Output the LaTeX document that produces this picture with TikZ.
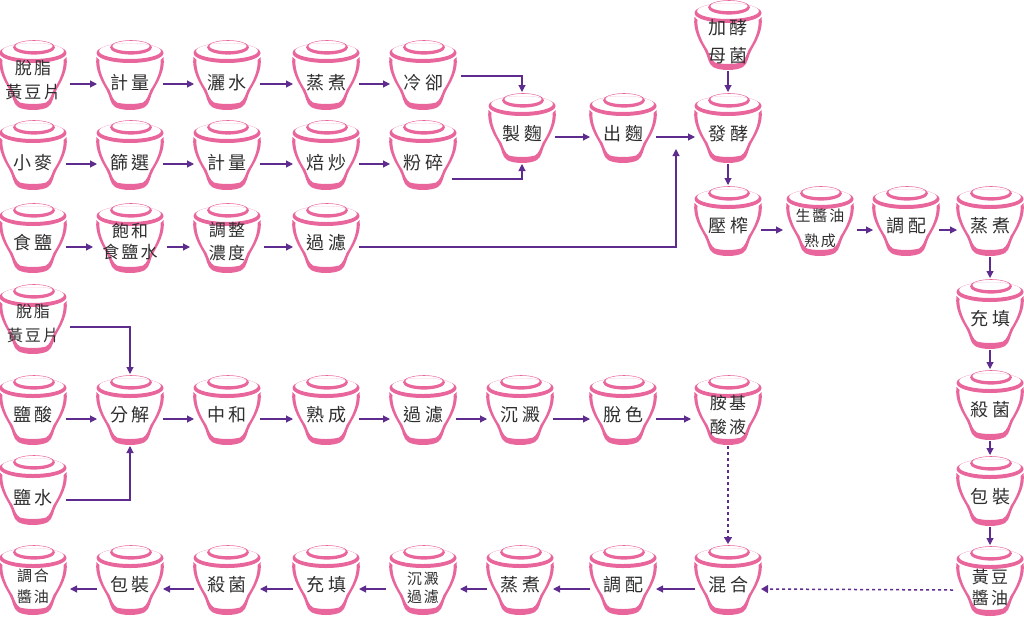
\documentclass[tikz,border=0pt]{standalone}
\usepackage{fontspec}
\setmainfont{Noto Sans CJK TC}
\usetikzlibrary{arrows.meta}
\definecolor{jarpink}{HTML}{E8669C}
\definecolor{flow}{HTML}{5E2B8E}
\definecolor{ink}{HTML}{2E2E2E}
\tikzset{
  jarfill/.style={fill=jarpink,draw=none,even odd rule},
  jarlabel/.style={minimum width=66pt,minimum height=52pt,inner sep=0pt,outer sep=0pt,text=ink,font=\fontsize{18}{20}\selectfont,align=center},
  link/.style={draw=flow,line width=1.1pt,-{Triangle[length=7pt,width=7pt]}},
  dotlink/.style={draw=flow,line width=1.5pt,dash pattern=on 3pt off 3pt,-{Triangle[length=7pt,width=8pt,sep=0pt]}},
}
\newcommand\one[3][4pt]{\raisebox{#1}[\height][\depth]{#2\hspace{4pt}#3}}
\newcommand\onea[2]{\one[1pt]{#1}{#2}}
\newcommand\twox[5]{\raisebox{#3}[\height][\depth]{\parbox[c]{74pt}{\centering\fontsize{#1}{#2}\selectfont\addfontfeature{LetterSpace=12} #4\\#5}}}
\newcommand\jar[4]{%
  \begin{scope}[shift={(#2,#3)}]
    \path[jarfill] (-33.5,17) .. controls (-35.5,30) and (-28,42) .. (-23.5,50)
       .. controls (-20,56) and (-20,64) .. (-15,67)
       .. controls (-8,71) and (8,71) .. (15,67)
       .. controls (20,64) and (20,56) .. (23.5,50)
       .. controls (28,42) and (35.5,30) .. (33.5,17)
       -- (30.5,20) .. controls (31.5,30) and (26,42) .. (20.5,50)
       .. controls (18,56) and (17,60) .. (13,62.5)
       .. controls (6,64.5) and (-6,64.5) .. (-13,62.5)
       .. controls (-17,60) and (-18,56) .. (-20.5,50)
       .. controls (-26,42) and (-31.5,30) .. (-30.5,20) -- cycle;
    \path[jarfill] (0,13) ellipse [x radius=33.5pt,y radius=10pt]
                   (0,11) ellipse [x radius=31pt,y radius=8pt];
    \path[jarfill] (1,7.4) ellipse [x radius=21pt,y radius=7.2pt]
                   (1,6) ellipse [x radius=18.8pt,y radius=5.2pt];
    \node[jarlabel] (#1) at (0,44) {#4};
    \coordinate (#1-t) at (0,-1);
    \coordinate (#1-b) at (0,71);
  \end{scope}}
\begin{document}
\begin{tikzpicture}[x=1pt,y=-1pt]
\useasboundingbox (0,0) rectangle (1024,616);
% row 1
\jar{a1}{33}{40}{\twox{17}{24}{3.5pt}{脫脂}{黃豆片}}
\jar{a2}{130}{40}{\onea{計}{量}}
\jar{a3}{227}{40}{\onea{灑}{水}}
\jar{a4}{326}{40}{\onea{蒸}{煮}}
\jar{a5}{423}{40}{\onea{冷}{卻}}
% row 2
\jar{b1}{33}{120}{\onea{小}{麥}}
\jar{b2}{130}{120}{\onea{篩}{選}}
\jar{b3}{227}{120}{\onea{計}{量}}
\jar{b4}{326}{120}{\onea{焙}{炒}}
\jar{b5}{423}{120}{\onea{粉}{碎}}
% row 3
\jar{c1}{33}{203}{\one{食}{鹽}}
\jar{c2}{130}{203}{\twox{17}{21}{5.5pt}{飽和}{食鹽水}}
\jar{c3}{227}{203}{\twox{17}{23}{5pt}{調整}{濃度}}
\jar{c4}{326}{203}{\one{過}{濾}}
% middle
\jar{m1}{522}{93}{\one[3pt]{製}{麴}}
\jar{m2}{623}{93}{\one[3pt]{出}{麴}}
\jar{m3}{728}{93}{\one[3pt]{發}{酵}}
\jar{m0}{728}{0}{\twox{18}{28}{2.5pt}{加酵}{母菌}}
\jar{m4}{728}{186}{\one{壓}{榨}}
\jar{m5}{820}{186}{\twox{15}{25}{2pt}{生醬油}{熟成}}
\jar{m6}{906}{186}{\one{調}{配}}
\jar{m7}{990}{186}{\one{蒸}{煮}}
\jar{m8}{990}{279}{\one{充}{填}}
\jar{m9}{990}{370}{\one{殺}{菌}}
\jar{m10}{990}{456}{\one[3pt]{包}{裝}}
\jar{m11}{990}{546}{\twox{17}{21}{3pt}{黃豆}{醬油}}
% row 4
\jar{d0}{33}{284}{\twox{16}{24}{4.5pt}{脫脂}{黃豆片}}
\jar{d1}{33}{375}{\one{鹽}{酸}}
\jar{d2}{130}{375}{\one{分}{解}}
\jar{d3}{227}{375}{\one{中}{和}}
\jar{d4}{326}{375}{\one{熟}{成}}
\jar{d5}{423}{375}{\one{過}{濾}}
\jar{d6}{520}{375}{\one{沉}{澱}}
\jar{d7}{623}{375}{\one{脫}{色}}
\jar{d8}{728}{375}{\twox{17}{24}{4pt}{胺基}{酸液}}
\jar{d9}{33}{455}{\one[1pt]{鹽}{水}}
% bottom row
\jar{e8}{728}{545}{\one{混}{合}}
\jar{e7}{623}{545}{\one{調}{配}}
\jar{e6}{520}{545}{\one{蒸}{煮}}
\jar{e5}{423}{545}{\twox{15}{18}{1.5pt}{沉澱}{過濾}}
\jar{e4}{326}{545}{\one{充}{填}}
\jar{e3}{227}{545}{\one{殺}{菌}}
\jar{e2}{130}{545}{\one{包}{裝}}
\jar{e1}{33}{545}{\twox{15}{21}{2.5pt}{調合}{醬油}}
% connectors
\foreach \p/\q in {a1/a2,a2/a3,a3/a4,a4/a5,b1/b2,b2/b3,b3/b4,b4/b5,c1/c2,c2/c3,c3/c4,
  m1/m2,m2/m3,m4/m5,m5/m6,m6/m7,d1/d2,d2/d3,d3/d4,d4/d5,d5/d6,d6/d7,d7/d8}
  \draw[link] (\p) -- (\q);
\foreach \p/\q in {e8/e7,e7/e6,e6/e5,e5/e4,e4/e3,e3/e2,e2/e1}
  \draw[link] (\p) -- (\q);
\foreach \p/\q in {m0/m3,m3/m4,m7/m8,m8/m9,m9/m10,m10/m11}
  \draw[link] (\p-b) -- (\q-t);
\draw[link] ([xshift=5pt,yshift=8pt]a5.east) -| (m1-t);
\draw[link] ([xshift=-4pt,yshift=-15pt]b5.east) -| (m1-b);
\draw[link] (c4.east) -| (676,149);
\draw[link] ([yshift=1pt]d0.east) -| (d2-t);
\draw[link] ([yshift=-1pt]d9.east) -| (d2-b);
\draw[dotlink] (d8-b) -- (e8-t);
\draw[dotlink] (m11.west) -- (e8.east);
\end{tikzpicture}
\end{document}
